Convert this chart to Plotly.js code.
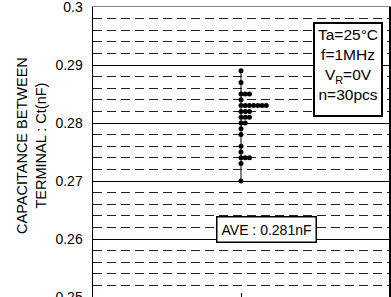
<!DOCTYPE html>
<html>
<head>
<meta charset="utf-8">
<script src="https://cdn.plot.ly/plotly-3.0.1.min.js"></script>
<style>html,body{margin:0;padding:0;background:#fff;}#chart{width:391px;height:297px;}</style>
</head>
<body>
<div id="chart"></div>
<script>
// Measured capacitance levels (nF) and number of samples at each level (n = 30)
const ctValues = [0.289, 0.287, 0.285, 0.284, 0.283, 0.282, 0.281, 0.280, 0.279, 0.278, 0.276, 0.275, 0.274, 0.273, 0.270];
const ctCounts = [1, 1, 3, 1, 7, 3, 3, 2, 1, 1, 1, 1, 3, 1, 1];
const yTickVals = [0.25, 0.26, 0.27, 0.28, 0.29, 0.3];
const yTickText = ['0.25', '0.26', '0.27', '0.28', '0.29', '0.3'];
const yTitleText = 'CAPACITANCE BETWEEN<br>TERMINAL : Ct(nF)';
const conditionText = ['Ta=25°C', 'f=1MHz', 'V<sub>R</sub>=0V', 'n=30pcs'];
const aveText = 'AVE : 0.281nF';

// dot-plot stacking: each extra sample at the same level goes one step to the right
const stackStep = 0.0285;
const px = [], py = [];
ctValues.forEach((v, i) => {
  for (let k = 0; k < ctCounts[i]; k++) { px.push(k * stackStep); py.push(v); }
});
const yMin = Math.min(...ctValues), yMax = Math.max(...ctValues);

const traces = [
  {x: [0, 0], y: [yMin, yMax], mode: 'lines', line: {color: '#000', width: 1}, hoverinfo: 'skip', showlegend: false},
  {x: px, y: py, mode: 'markers', marker: {color: '#000', size: 5}, showlegend: false}
];

const layout = {
  width: 391, height: 297,
  margin: {l: 93, r: 2, t: 7, b: 0},
  paper_bgcolor: '#fff', plot_bgcolor: '#fff',
  font: {family: 'Liberation Sans, Arial, sans-serif', color: '#000'},
  showlegend: false,
  xaxis: {
    range: [-1, 1], showgrid: false, zeroline: false,
    showline: true, mirror: true, linecolor: '#888', linewidth: 1,
    tickvals: [0], ticks: 'inside', ticklen: 4, tickcolor: '#000', showticklabels: false
  },
  yaxis: {
    range: [0.25, 0.3], tickvals: yTickVals, ticktext: yTickText,
    ticks: '', ticklabelstandoff: 6, ticklabeloverflow: 'allow',
    tickfont: {size: 14, color: '#000'},
    showgrid: true, gridcolor: '#000', gridwidth: 1,
    minor: {dtick: 0.002, showgrid: true, gridcolor: '#222', griddash: '9px,5px', gridwidth: 1},
    zeroline: false, showline: true, linecolor: '#000', linewidth: 1.5, mirror: true
  },
  annotations: [
    {xref: 'paper', yref: 'paper', x: -0.206, y: 0.521, xanchor: 'center', yanchor: 'middle',
     textangle: -90, text: yTitleText, showarrow: false, align: 'center',
     font: {size: 14.5, color: '#000'}},
    {xref: 'paper', yref: 'paper', x: 0.863, y: 0.784, xanchor: 'center', yanchor: 'middle',
     text: conditionText.join('<br>'), showarrow: false, align: 'center', valign: 'top',
     width: 62, height: 87,
     font: {size: 15.5, color: '#000'}, bgcolor: '#fff', bordercolor: '#000', borderwidth: 2, borderpad: 2},
    {xref: 'paper', yref: 'y', x: 0.585, y: 0.2616, xanchor: 'center', yanchor: 'middle',
     text: aveText, showarrow: false,
     font: {size: 14, color: '#000'}, bgcolor: '#fff', bordercolor: '#000', borderwidth: 1.5, borderpad: 4}
  ]
};

Plotly.newPlot('chart', traces, layout, {displayModeBar: false, staticPlot: true});
</script>
</body>
</html>
